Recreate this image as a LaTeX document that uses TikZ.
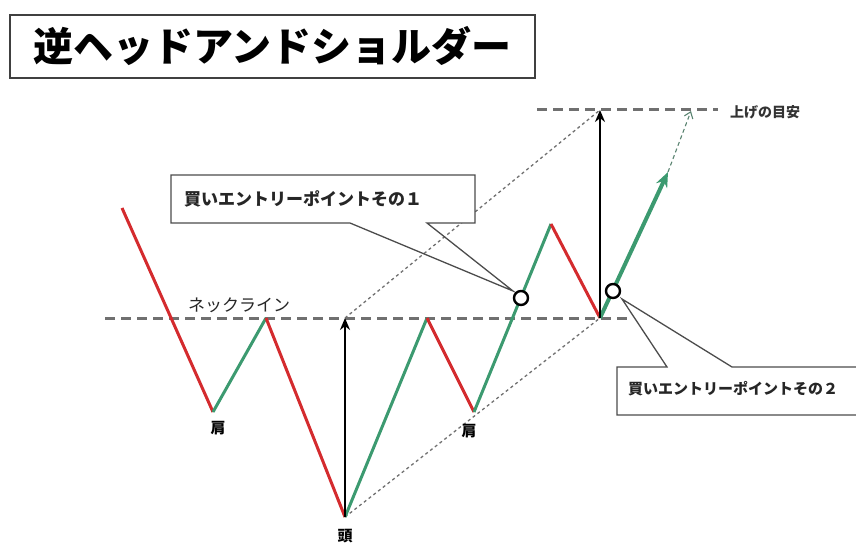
\documentclass[tikz,border=0pt]{standalone}
\usepackage{fontspec}
\setmainfont{Noto Sans CJK JP}
\newfontfamily\cjk{Noto Sans CJK JP}
\usetikzlibrary{arrows.meta}

\definecolor{downred}{HTML}{D42B2E}
\definecolor{upgreen}{HTML}{3C9A70}
\definecolor{guidegray}{HTML}{707070}

\begin{document}
\begin{tikzpicture}[x=1pt, y=-1pt,
	down/.style={draw=downred, line width=3pt},
	up/.style={draw=upgreen, line width=3pt},
	neck/.style={draw=guidegray, line width=3pt, dash pattern=on 10pt off 6pt},
	guide/.style={draw=guidegray, line width=1.3pt, dash pattern=on 3pt off 3pt},
	rise/.style={-{Stealth[length=12pt,width=10pt]}, line width=2.4pt},
	entry/.style={circle, draw, line width=2.4pt, fill=white, minimum size=14pt, inner sep=0pt},
	callout/.style={draw=black!70, line width=1.3pt, line join=miter},
	lbl/.style={font=\cjk\bfseries\fontsize{15}{15}\selectfont, inner sep=0pt},
	]
	\useasboundingbox (0,0) rectangle (856,545);
	
	% price path points
	\coordinate (start) at (122,208);
	\coordinate (ls)    at (213,412);
	\coordinate (n1)    at (266,318);
	\coordinate (head)  at (345,517);
	\coordinate (n2)    at (427,318);
	\coordinate (rs)    at (474,412);
	\coordinate (pk)    at (551,224);
	\coordinate (bk)    at (600,318);
	\coordinate (tip)   at (668,172);
	\coordinate (tgt)   at (691,111);
	\coordinate (hn)    at (345,318);
	\coordinate (top)   at (600,110);
	
	% title
	\node[draw=black!75, line width=2pt, minimum width=525pt, minimum height=63pt,
		font=\cjk\bfseries\fontsize{40}{40}\selectfont] (title) at (272.5,46.5) {逆ヘッドアンドショルダー};
	
	% neckline and target line
	\draw[neck] (105,318) -- (628,318);
	\draw[neck] (537,110) -- (718,110);
	\node[font=\cjk\fontsize{17}{17}\selectfont, text=black!85, inner sep=0pt] (necklbl) at (239,305) {ネックライン};
	\node[font=\cjk\bfseries\fontsize{14}{14}\selectfont, text=black!80, inner sep=0pt] (tgtlbl) at (765,112) {上げの目安};
	
	% parallel guides
	\draw[guide] (hn) -- (top);
	\draw[guide] (head) -- (bk);
	
	% callout 1
	\fill[white] (171,175) rectangle (475,223);
	\draw[callout] (350,223) -- (171,223) -- (171,175) -- (475,175) -- (475,223) -- (427,223) -- (513,291) -- cycle;
	\node[font=\cjk\bfseries\fontsize{17}{17}\selectfont, text=black!85, anchor=west, inner sep=0pt] (call1) at (184,199) {買いエントリーポイントその１};
	
	% callout 2
	\fill[white] (617,367) rectangle (858,415);
	\draw[callout] (858,367) -- (732,367) -- (622,299) -- (667,367) -- (617,367) -- (617,415) -- (858,415);
	\node[font=\cjk\bfseries\fontsize{15}{15}\selectfont, text=black!85, anchor=west, inner sep=0pt] (call2) at (628,389) {買いエントリーポイントその２};
	
	% price path
	\draw[down] (start) -- (ls);
	\draw[up]   (ls) -- (n1);
	\draw[down] (n1) -- (head);
	\draw[up]   (head) -- (n2);
	\draw[down] (n2) -- (rs);
	\draw[up]   (rs) -- (pk);
	\draw[down] (pk) -- (bk);
	\draw[up, line width=4pt, -{Stealth[length=15pt,width=12pt]}] (bk) -- (tip);
	\draw[draw=upgreen!45!guidegray, line width=1.1pt, dash pattern=on 4pt off 3pt,
		-{Straight Barb[length=6pt,width=9pt]}] (tip) -- (tgt);
	
	% height arrows
	\draw[rise] (head) -- (hn);
	\draw[rise] (bk) -- (top);
	
	% entry points
	\node[entry] (e1) at (521,298) {};
	\node[entry] (e2) at (613,291) {};
	
	% labels
	\node[lbl] (lslbl) at (218,428) {肩};
	\node[lbl] (rslbl) at (469,431) {肩};
	\node[lbl] (hlbl)  at (345,536) {頭};
	
\end{tikzpicture}
\end{document}
